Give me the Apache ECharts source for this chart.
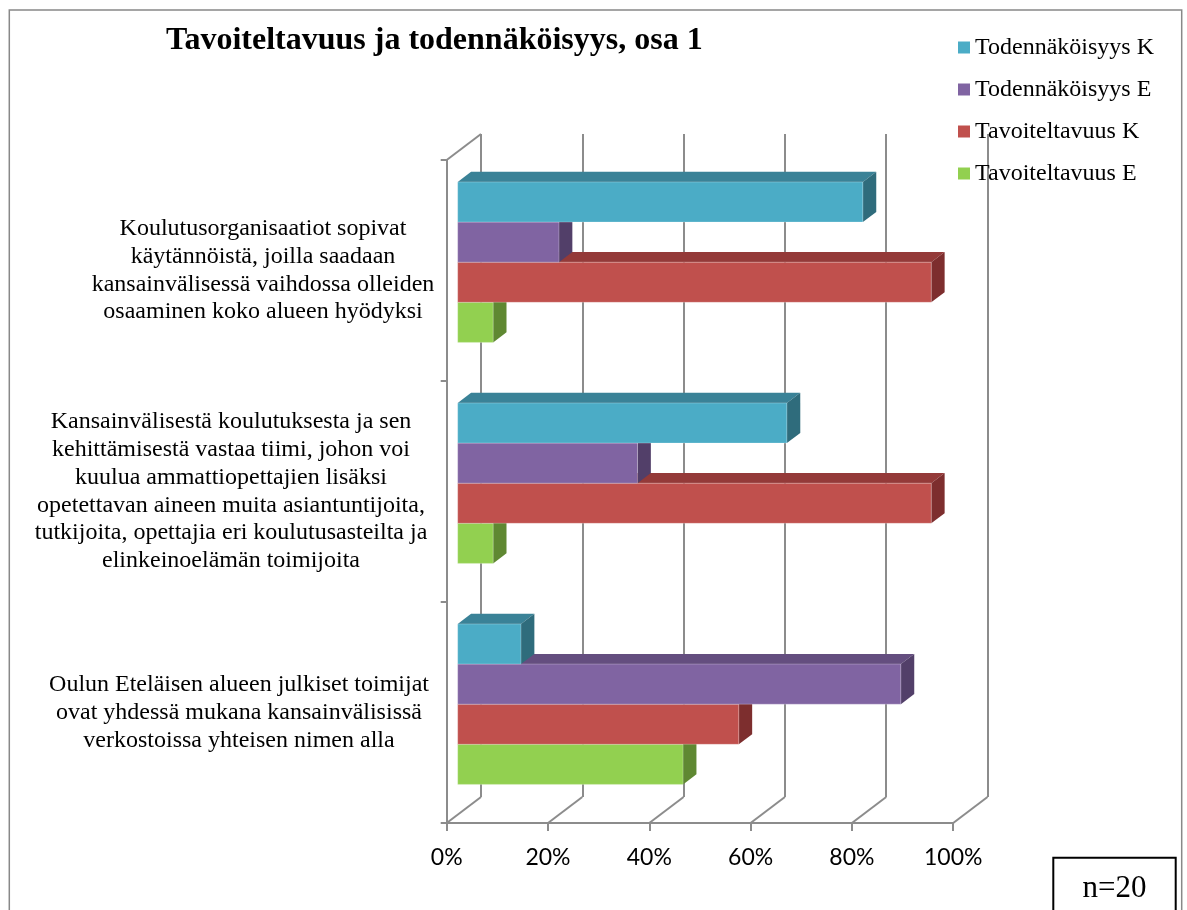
<!DOCTYPE html>
<html><head><meta charset="utf-8">
<script src="https://cdn.jsdelivr.net/npm/echarts@6/dist/echarts.min.js"></script>
<style>html,body{margin:0;padding:0;background:#fff}#c{width:1187px;height:910px}</style>
</head><body><div id="c"></div>
<script>
// ---------- data ----------
const categories = [
  'Koulutusorganisaatiot sopivat\nkäytännöistä, joilla saadaan\nkansainvälisessä vaihdossa olleiden\nosaaminen koko alueen hyödyksi',
  'Kansainvälisestä koulutuksesta ja sen\nkehittämisestä vastaa tiimi, johon voi\nkuulua ammattiopettajien lisäksi\nopetettavan aineen muita asiantuntijoita,\ntutkijoita, opettajia eri koulutusasteilta ja\nelinkeinoelämän toimijoita',
  'Oulun Eteläisen alueen julkiset toimijat\novat yhdessä mukana kansainvälisissä\nverkostoissa yhteisen nimen alla'
];
const seriesNames = ['Todennäköisyys K', 'Todennäköisyys E', 'Tavoiteltavuus K', 'Tavoiteltavuus E'];
const todennakoisyysK = [80, 65, 12.5];
const todennakoisyysE = [20, 35.5, 87.5];
const tavoiteltavuusK = [93.5, 93.5, 55.5];
const tavoiteltavuusE = [7, 7, 44.5];
const xTicks = [0, 20, 40, 60, 80, 100];
const chartTitle = 'Tavoiteltavuus ja todennäköisyys, osa 1';
const sampleNote = 'n=20';

// ---------- style / layout ----------
const seriesValues = [todennakoisyysK, todennakoisyysE, tavoiteltavuusK, tavoiteltavuusE];
const palette = [
  { front: '#4BACC6', top: '#3A8297', side: '#2F6C7C' },
  { front: '#8064A2', top: '#644E7F', side: '#523F69' },
  { front: '#C0504D', top: '#943A39', side: '#7D2E2E' },
  { front: '#92D050', top: '#72A23E', side: '#5F8832' }
];
const GRAY = '#8c8c8c';
const DX = 34.3, DY = -26;          // depth offset of the back wall
const BAR_F0 = 0.32, BAR_FD = 0.39;  // bar front depth and bar thickness (fraction of depth)
const BAR_RATIO = 0.1815;            // bar height / category band
const FRONT = { left: 446.7, top: 160, width: 506.5, height: 663 };
const SERIF = '"Liberation Serif", "Times New Roman", serif';
const SANS = 'Lato, "Open Sans", sans-serif';
const labelShift = [64, 0, 16];

const chart = echarts.init(document.getElementById('c'), null, { renderer: 'canvas' });

function barRenderer(slot) {
  const col = palette[slot];
  return function (params, api) {
    const v = api.value(0), ci = api.value(1);
    const bw = api.size([0, 1])[1];
    const p0 = api.coord([0, ci]);
    const p1 = api.coord([v, ci]);
    const h = bw * BAR_RATIO;
    const ox = DX * BAR_F0, oy = DY * BAR_F0;
    const bdx = DX * BAR_FD, bdy = DY * BAR_FD;
    const x0 = p0[0] + ox, x1 = p1[0] + ox;
    const yt = p0[1] - 2 * h + slot * h + oy, yb = yt + h;
    return {
      type: 'group',
      children: [
        { type: 'polygon', shape: { points: [[x0, yt], [x1, yt], [x1 + bdx, yt + bdy], [x0 + bdx, yt + bdy]] },
          style: { fill: col.top } },
        { type: 'polygon', shape: { points: [[x1, yt], [x1 + bdx, yt + bdy], [x1 + bdx, yb + bdy], [x1, yb]] },
          style: { fill: col.side } },
        { type: 'rect', shape: { x: x0, y: yt, width: x1 - x0, height: h },
          style: { fill: col.front, stroke: 'rgba(255,255,255,0.25)', lineWidth: 1 } }
      ]
    };
  };
}

const barSeries = seriesNames.map((name, s) => ({
  name: name,
  type: 'custom',
  xAxisIndex: 0, yAxisIndex: 0,
  z: 10 - s,
  itemStyle: { color: palette[s].front },
  encode: { x: 0, y: 1 },
  data: seriesValues[s].map((v, i) => [v, i]),
  renderItem: barRenderer(s)
}));

const floorSeries = {
  type: 'custom',
  xAxisIndex: 0, yAxisIndex: 0,
  silent: true, z: 1,
  data: xTicks.map(v => [v, 0]),
  encode: { x: 0 },
  renderItem: function (params, api) {
    const cs = params.coordSys;
    const x = api.coord([api.value(0), 0])[0];
    const yb = cs.y + cs.height;
    const ls = { stroke: GRAY, lineWidth: 2 };
    const children = [{ type: 'line', shape: { x1: x, y1: yb, x2: x + DX, y2: yb + DY }, style: ls }];
    if (params.dataIndex === 0) {
      children.push({ type: 'line', shape: { x1: x, y1: cs.y, x2: x + DX, y2: cs.y + DY }, style: ls });
    }
    return { type: 'group', children: children };
  }
};

const rich = {};
categories.forEach((c, i) => {
  rich['c' + i] = { fontFamily: SERIF, fontSize: 24, lineHeight: 27.8, color: '#000',
    padding: [0, 0, 0, labelShift[i]] };
});

chart.setOption({
  animation: false,
  backgroundColor: '#fff',
  title: {
    text: chartTitle, left: 166, top: 25, padding: 0,
    textStyle: { fontFamily: SERIF, fontWeight: 'bold', fontSize: 32, color: '#000' }
  },
  legend: {
    orient: 'vertical', left: 958, top: 35.5, padding: 0,
    itemWidth: 12, itemHeight: 12, itemGap: 18, selectedMode: false,
    data: seriesNames.map(n => ({ name: n, icon: 'rect' })),
    textStyle: { fontFamily: SERIF, fontSize: 24, lineHeight: 24, color: '#000' }
  },
  grid: [
    { left: FRONT.left, top: FRONT.top, width: FRONT.width, height: FRONT.height, containLabel: false, outerBoundsMode: 'none' },
    { left: FRONT.left + DX, top: FRONT.top + DY, width: FRONT.width, height: FRONT.height, containLabel: false, outerBoundsMode: 'none' }
  ],
  xAxis: [
    { type: 'value', gridIndex: 0, min: 0, max: 100, interval: 20,
      axisLine: { show: true, lineStyle: { color: GRAY, width: 2 } },
      axisTick: { show: true, length: 8, lineStyle: { color: GRAY, width: 2 } },
      splitLine: { show: false },
      axisLabel: { margin: 23, formatter: v => v + '%', fontFamily: SANS, fontSize: 23, color: '#000' } },
    { type: 'value', gridIndex: 1, min: 0, max: 100, interval: 20,
      axisLine: { show: false }, axisTick: { show: false }, axisLabel: { show: false },
      splitLine: { show: true, lineStyle: { color: GRAY, width: 2 } } }
  ],
  yAxis: [
    { type: 'category', gridIndex: 0, data: categories, inverse: true,
      axisLine: { show: true, lineStyle: { color: GRAY, width: 2 } },
      axisTick: { show: true, length: 6, lineStyle: { color: GRAY, width: 2 } },
      splitLine: { show: false },
      axisLabel: { interval: 0, align: 'center', margin: 215.7,
        formatter: (val, idx) => '{c' + idx + '|' + val + '}', rich: rich } },
    { type: 'value', gridIndex: 1, min: 0, max: 1,
      axisLine: { show: false }, axisTick: { show: false }, axisLabel: { show: false },
      splitLine: { show: false } }
  ],
  graphic: [
    { type: 'rect', z: 100, silent: true,
      shape: { x: 9.3, y: 10, width: 1172.4, height: 950 },
      style: { fill: 'none', stroke: '#888', lineWidth: 1.5 } },
    { type: 'rect', z: 100, silent: true,
      shape: { x: 1053.3, y: 857.7, width: 122.4, height: 80 },
      style: { fill: '#fff', stroke: '#000', lineWidth: 2 } },
    { type: 'text', z: 101, silent: true,
      style: { text: sampleNote, x: 1114.5, y: 889, align: 'center', verticalAlign: 'middle',
        textAlign: 'center', textVerticalAlign: 'middle',
        font: '31px "Liberation Serif", "Times New Roman", serif', fill: '#000' } }
  ],
  series: [floorSeries].concat(barSeries)
});
</script></body></html>
